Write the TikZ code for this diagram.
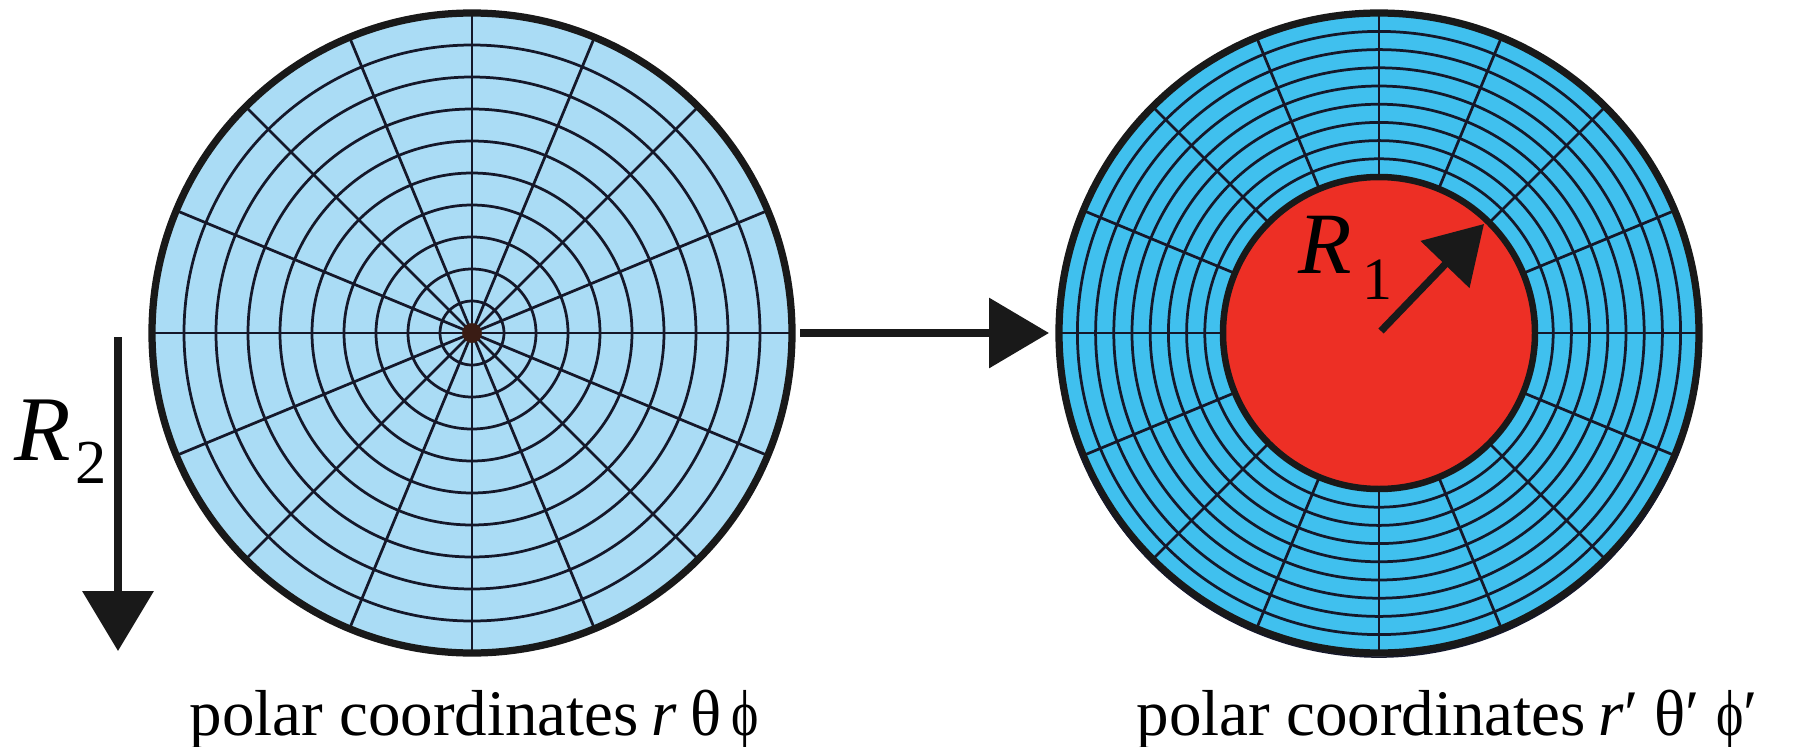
\documentclass[tikz,border=0pt]{standalone}
\usepackage{graphicx}
\usepackage{fontspec}
\setmainfont{Liberation Serif}
\usetikzlibrary{arrows.meta}
\definecolor{lightblu}{HTML}{AADCF5}
\definecolor{cyanblu}{HTML}{40C0EE}
\definecolor{redcore}{HTML}{ED2F25}
\definecolor{gridcol}{HTML}{15182A}
\definecolor{dotcol}{HTML}{3A1C14}
\newcommand{\narrowphi}{\scalebox{0.8}[1]{ϕ}}
\tikzset{
  gridline/.style={draw=gridcol, line width=1.1pt},
  rim/.style={draw=black!90, line width=2.9pt},
  bigarrow/.style={draw=black!90, line width=3.1pt, -{Triangle[length=24pt,width=27.5pt]}},
  lbl/.style={inner sep=0pt, anchor=base west},
  captxt/.style={lbl, font=\fontsize{26pt}{31pt}\selectfont},
}
\begin{document}
\begin{tikzpicture}[x=0.4pt, y=-0.4pt]
\useasboundingbox (0,0) rectangle (1809,747);
\coordinate (L) at (472,333);
\coordinate (Rc) at (1379,333);
% left disc
\fill[lightblu] (L) circle (322);
\foreach \k in {1,...,9} \draw[gridline] (L) circle ({32*\k});
\foreach \a in {0,22.5,...,337.5} \draw[gridline] (L) -- ++(\a:320);
\fill[dotcol] (L) circle (10);
\draw[rim] (L) circle (320);
% right disc
\fill[cyanblu] (Rc) circle (322);
\foreach \k in {1,...,8} \draw[gridline] (Rc) circle ({156+18.2*\k});
\foreach \a in {0,22.5,...,337.5} \draw[gridline] (Rc) ++(\a:156) -- ++(\a:164);
\draw[rim] (Rc) circle (320);
\draw[draw=gridcol, line width=0.6pt] (1379,336) ++(20:321) arc[start angle=20, end angle=160, radius=321];
\fill[redcore] (Rc) circle (156);
\draw[draw=black!90, line width=2.6pt] (Rc) circle (156);
% arrows
\coordinate (m1) at (800,333);
\coordinate (m2) at (1049,333);
\draw[bigarrow] (m1) -- (m2);
\coordinate (a1) at (118,337);
\coordinate (a2) at (118,651);
\draw[bigarrow, line width=2.9pt, -{Triangle[length=24pt,width=28pt]}] (a1) -- (a2);
\coordinate (b1) at (1381,331);
\coordinate (b2) at (1484,224);
\draw[bigarrow, line width=2.9pt, -{Triangle[length=22.5pt,width=26.5pt]}] (b1) -- (b2);
% labels
\node[lbl] (R1a) at (1298,273) {\fontsize{35pt}{40pt}\selectfont\itshape R};
\node[lbl] (R1b) at (1362,299) {\fontsize{24pt}{28pt}\selectfont 1};
\node[lbl] (R2a) at (14,460) {\fontsize{37pt}{42pt}\selectfont\itshape R};
\node[lbl] (R2b) at (75,483) {\fontsize{25pt}{30pt}\selectfont 2};
\node[captxt] (capL) at (189,735) {polar coordinates\hspace{0.2em}\textit{r}\hspace{0.2em}θ\hspace{0.15em}\narrowphi};
\node[captxt] (capR) at (1136,735) {polar coordinates\hspace{0.2em}\textit{r}′\hspace{0.25em}θ′\hspace{0.25em}\narrowphi′};
\end{tikzpicture}
\end{document}
